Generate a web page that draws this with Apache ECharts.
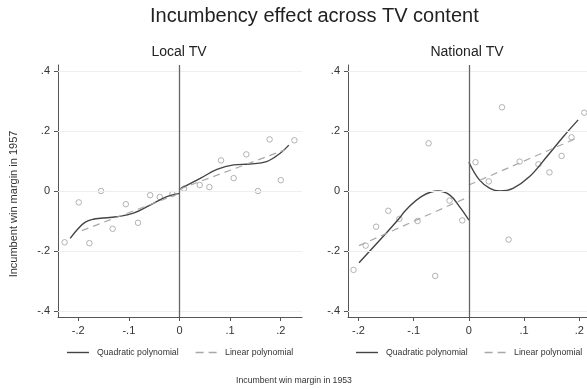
<!DOCTYPE html>
<html>
<head>
<meta charset="utf-8">
<script src="https://cdn.jsdelivr.net/npm/echarts@6/dist/echarts.min.js"></script>
<style>
html,body{margin:0;padding:0;background:#fff;}
#c{width:587px;height:389px;}
</style>
</head>
<body>
<div id="c"></div>
<script>
// ---- Data ----
const xTicks = [-0.2, -0.1, 0, 0.1, 0.2];
const yTicks = [-0.4, -0.2, 0, 0.2, 0.4];

// Local TV binned scatter
const localPoints = [
  [-0.227,-0.171],[-0.199,-0.038],[-0.178,-0.174],[-0.155,0.000],[-0.132,-0.126],
  [-0.106,-0.044],[-0.082,-0.106],[-0.058,-0.014],[-0.039,-0.020],[-0.014,-0.010],
  [0.009,0.008],[0.040,0.020],[0.059,0.013],[0.082,0.102],[0.107,0.043],
  [0.132,0.122],[0.155,0.000],[0.178,0.172],[0.200,0.036],[0.227,0.169]
];
// Local TV polynomial fit (left / right of cutoff)
const localQuadLeft = [
  [-0.216,-0.158],[-0.200,-0.125],[-0.186,-0.104],[-0.170,-0.094],[-0.156,-0.091],
  [-0.124,-0.086],[-0.091,-0.074],[-0.058,-0.047],[-0.025,-0.019],[0.000,-0.008]
];
const localQuadRight = [
  [0.000,0.006],[0.041,0.042],[0.074,0.072],[0.107,0.087],[0.139,0.090],
  [0.172,0.098],[0.199,0.126],[0.216,0.153]
];
const localLinLeft = [[-0.193,-0.132],[0.000,-0.008]];
const localLinRight = [[0.000,0.006],[0.208,0.137]];

// National TV binned scatter
const nationalPoints = [
  [-0.209,-0.263],[-0.187,-0.182],[-0.168,-0.119],[-0.146,-0.066],[-0.126,-0.093],
  [-0.093,-0.100],[-0.073,0.159],[-0.061,-0.283],[-0.035,-0.032],[-0.012,-0.098],
  [0.012,0.096],[0.036,0.032],[0.060,0.279],[0.072,-0.162],[0.092,0.098],
  [0.126,0.089],[0.146,0.062],[0.168,0.117],[0.186,0.179],[0.209,0.261]
];
const nationalQuadLeft = [
  [-0.199,-0.239],[-0.150,-0.141],[-0.126,-0.091],[-0.114,-0.063],[-0.084,-0.016],
  [-0.056,0.000],[-0.035,-0.013],[-0.017,-0.052],[0.000,-0.097]
];
const nationalQuadRight = [
  [0.000,0.096],[0.019,0.037],[0.038,0.009],[0.056,0.000],[0.080,0.009],
  [0.110,0.048],[0.141,0.114],[0.171,0.181],[0.198,0.237]
];
const nationalLinLeft = [[-0.199,-0.182],[0.000,-0.019]];
const nationalLinRight = [[0.000,0.020],[0.195,0.176]];

// ---- Chart ----
const FONT = '"Liberation Sans", Arial, sans-serif';
const AX = '#555';
function fmt(v){
  if (Math.abs(v) < 1e-9) return '0';
  const s = String(Math.round(Math.abs(v)*10)/10).replace(/^0/, '');
  return (v < 0 ? '-' : '') + s;
}
function xAxisCfg(idx, min, max){
  return {
    type:'value', gridIndex: idx, min, max,
    axisLine:{show:true, onZero:false, lineStyle:{color:AX, width:1}},
    axisTick:{show:true, length:4, customValues:xTicks, lineStyle:{color:AX}},
    axisLabel:{customValues:xTicks, formatter:fmt, color:'#333', fontSize:11, fontFamily:FONT, margin:8},
    splitLine:{show:false}
  };
}
function yAxisCfg(idx){
  return {
    type:'value', gridIndex: idx, min:-0.42, max:0.42,
    axisLine:{show:true, onZero:false, lineStyle:{color:AX, width:1}},
    axisTick:{show:true, length:4, customValues:yTicks, lineStyle:{color:AX}},
    axisLabel:{customValues:yTicks, formatter:fmt, color:'#333', fontSize:11, fontFamily:FONT, margin:8},
    splitLine:{show:false}
  };
}
function scatterSeries(idx, data){
  return {
    type:'scatter', xAxisIndex:idx, yAxisIndex:idx, data,
    symbol:'circle', symbolSize:5.5,
    itemStyle:{color:'#ffffff', borderColor:'#a0a0a0', borderWidth:1},
    z:3,
    markLine:{
      silent:true, symbol:['none','none'], label:{show:false},
      animation:false,
      data: yTicks.map(v => ({yAxis:v, lineStyle:{color:'#eeeeee', width:1, type:'solid'}}))
        .concat([{xAxis:0, lineStyle:{color:'#666', width:1.3, type:'solid'}}])
    }
  };
}
function lineSeries(idx, name, data, dashed){
  return {
    type:'line', name, xAxisIndex:idx, yAxisIndex:idx, data,
    smooth: dashed ? false : 0.4, symbol:'none', showSymbol:false,
    lineStyle: dashed ? {color:'#a8a8a8', width:1.2, type:[7,5]} : {color:'#444', width:1.4, type:'solid'},
    itemStyle:{color: dashed ? '#a8a8a8' : '#444'},
    z:4
  };
}
const SOLID_ICON = 'path://M0,0L22,0L22,1.4L0,1.4Z';
const DASH_ICON = 'path://M0,0L8,0L8,1.4L0,1.4Z M13,0L21,0L21,1.4L13,1.4Z';
function legendCfg(left){
  return {
    left, top:348, width:320, itemWidth:22, itemHeight:1.4, itemGap:17,
    padding:0,
    data:[{name:'Quadratic polynomial', icon:SOLID_ICON},{name:'Linear polynomial', icon:DASH_ICON}],
    textStyle:{fontSize:8.7, color:'#333', fontFamily:FONT, padding:[0,0,0,3]},
    selectedMode:false
  };
}

const chart = echarts.init(document.getElementById('c'), null, {renderer:'canvas'});
chart.setOption({
  animation:false,
  backgroundColor:'#fff',
  textStyle:{fontFamily:FONT},
  title:[
    {text:'Incumbency effect across TV content', left:150, top:6, padding:0,
     textStyle:{fontSize:20, fontWeight:'normal', color:'#222', fontFamily:FONT}},
    {text:'Local TV', left:179, top:45, padding:0, textAlign:'center',
     textStyle:{fontSize:14, fontWeight:'normal', color:'#222', fontFamily:FONT}},
    {text:'National TV', left:467, top:45, padding:0, textAlign:'center',
     textStyle:{fontSize:14, fontWeight:'normal', color:'#222', fontFamily:FONT}}
  ],
  grid:[
    {left:58, top:65, width:244, height:252},
    {left:348, top:65, width:239, height:252}
  ],
  xAxis:[xAxisCfg(0,-0.24,0.242), xAxisCfg(1,-0.219,0.214)],
  yAxis:[yAxisCfg(0), yAxisCfg(1)],
  legend:[legendCfg(67), legendCfg(356)],
  graphic:[
    {type:'text', x:14, y:204, rotation:Math.PI/2,
     style:{text:'Incumbent win margin in 1957', fontSize:11, fill:'#333', fontFamily:FONT,
            align:'center', verticalAlign:'middle'}},
    {type:'text', x:294, y:381,
     style:{text:'Incumbent win margin in 1953', fontSize:8.7, fill:'#333', fontFamily:FONT,
            align:'center', verticalAlign:'middle'}}
  ],
  series:[
    scatterSeries(0, localPoints),
    lineSeries(0,'Quadratic polynomial', localQuadLeft, false),
    lineSeries(0,'Quadratic polynomial', localQuadRight, false),
    lineSeries(0,'Linear polynomial', localLinLeft, true),
    lineSeries(0,'Linear polynomial', localLinRight, true),
    scatterSeries(1, nationalPoints),
    lineSeries(1,'Quadratic polynomial', nationalQuadLeft, false),
    lineSeries(1,'Quadratic polynomial', nationalQuadRight, false),
    lineSeries(1,'Linear polynomial', nationalLinLeft, true),
    lineSeries(1,'Linear polynomial', nationalLinRight, true)
  ]
});
</script>
</body>
</html>
